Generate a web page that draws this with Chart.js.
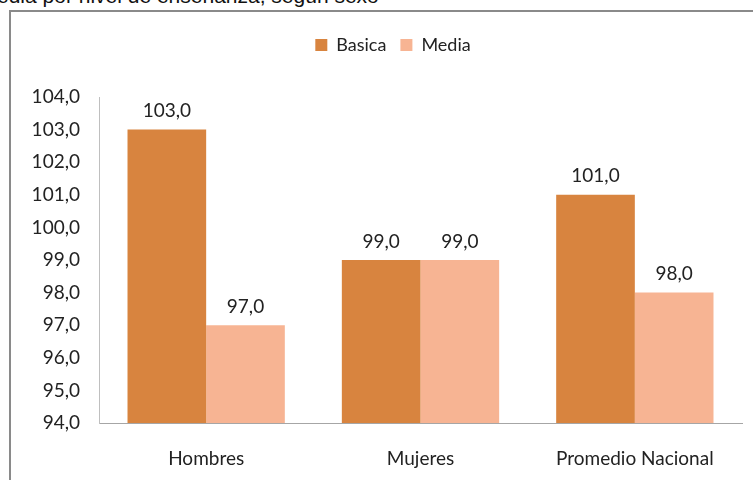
<!DOCTYPE html>
<html>
<head>
<meta charset="utf-8">
<script src="https://cdn.jsdelivr.net/npm/chart.js@4.4.0/dist/chart.umd.min.js"></script>
<style>
  html, body { margin: 0; padding: 0; background: #fff; overflow: hidden; }
  body { width: 753px; height: 480px; position: relative; }
  #title {
    position: absolute; left: -3px; top: -16px;
    font: 21px "Liberation Sans", Arial, sans-serif; color: #111; white-space: nowrap;
  }
  #box {
    position: absolute; left: 9px; top: 10px; width: 760px; height: 490px;
    border: 2px solid #8a8a8a; box-sizing: border-box; background: #fff;
  }
  #wrap { position: absolute; left: 0; top: 0; width: 753px; height: 480px; }
</style>
</head>
<body>
<div id="title">edia por nivel de enseñanza, según sexo</div>
<div id="box"></div>
<div id="wrap"><canvas id="chart" width="753" height="480"></canvas></div>
<script>
// datos
const categories = ['Hombres', 'Mujeres', 'Promedio Nacional'];
const basica = [103.0, 99.0, 101.0];
const media = [97.0, 99.0, 98.0];
const seriesNames = ['Basica', 'Media'];
const colors = ['#D8843F', '#F7B493'];
const yMin = 94, yMax = 104;

const FONT = 'Lato, "Open Sans", sans-serif';

function fmt(v) { return v.toFixed(1).replace('.', ','); }

// etiquetas de valor encima de cada barra
const valueLabels = {
    id: 'valueLabels',
    afterDatasetsDraw(chart) {
        const ctx = chart.ctx;
        ctx.save();
        ctx.font = '19px ' + FONT;
        ctx.fillStyle = '#222';
        ctx.textAlign = 'center';
        ctx.textBaseline = 'bottom';
        chart.data.datasets.forEach((ds, i) => {
            chart.getDatasetMeta(i).data.forEach((bar, j) => {
                ctx.fillText(fmt(ds.data[j]), bar.x, bar.y - 9);
            });
        });
        ctx.restore();
    }
};

// leyenda: altura fija y desplazada a la derecha como en el original
const legendPos = {
    id: 'legendPos',
    beforeInit(chart) {
        const orig = chart.legend.fit;
        chart.legend.fit = function () { orig.call(this); this.height = 97 - 22; };
    },
    afterLayout(chart) {
        chart.legend.left += 22;
        chart.legend.right += 22;
    }
};

new Chart(document.getElementById('chart'), {
    type: 'bar',
    data: {
        labels: categories,
        datasets: [
            { label: seriesNames[0], data: basica, backgroundColor: colors[0] },
            { label: seriesNames[1], data: media, backgroundColor: colors[1] }
        ]
    },
    options: {
        responsive: false,
        animation: false,
        devicePixelRatio: 1,
        categoryPercentage: 0.734,
        barPercentage: 1.0,
        layout: { padding: { left: 0, right: 11, top: 22, bottom: 0 } },
        scales: {
            x: {
                grid: { display: false, drawTicks: false },
                border: { color: '#a6a6a6', width: 1 },
                ticks: { color: '#222', font: { family: FONT, size: 19 }, padding: 24 },
                afterFit(scale) { scale.height = 480 - 423; }
            },
            y: {
                min: yMin, max: yMax,
                grid: { display: false, drawTicks: false },
                border: { color: '#bfbfbf', width: 1 },
                ticks: {
                    stepSize: 1, color: '#222', padding: 19,
                    font: { family: FONT, size: 19 },
                    callback: v => fmt(v)
                },
                afterFit(scale) { scale.width = 99; }
            }
        },
        plugins: {
            legend: {
                position: 'top',
                labels: {
                    boxWidth: 12, boxHeight: 12, padding: 14,
                    color: '#222', font: { family: FONT, size: 18 }
                }
            },
            tooltip: { enabled: false }
        }
    },
    plugins: [valueLabels, legendPos]
});
</script>
</body>
</html>
